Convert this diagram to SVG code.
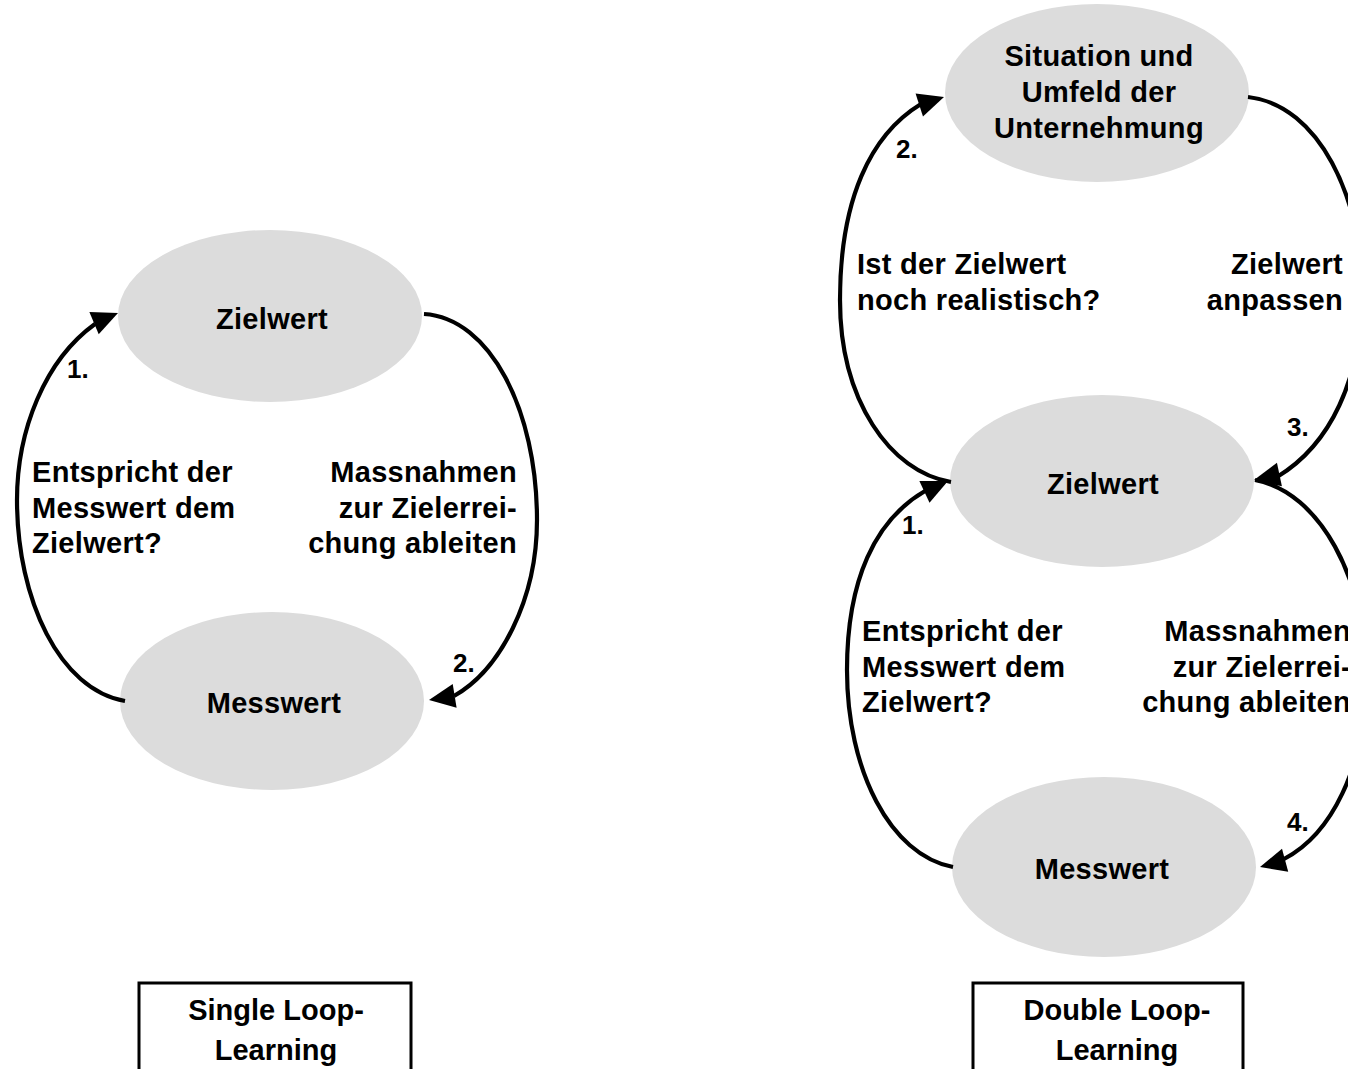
<svg xmlns="http://www.w3.org/2000/svg" xmlns:xlink="http://www.w3.org/1999/xlink" width="1348" height="1069" viewBox="0 0 1348 1069">
<style>
.node{fill:#dcdcdc;stroke:none}
.t{font-family:"Liberation Sans",Arial,sans-serif;font-weight:bold;font-size:29px;letter-spacing:0.3px;fill:#000}
.n{font-family:"Liberation Sans",Arial,sans-serif;font-weight:bold;font-size:26px;fill:#000}
.bt{font-family:"Liberation Sans",Arial,sans-serif;font-weight:bold;font-size:29px;fill:#000}
.c{fill:none;stroke:#000;stroke-width:4.2;stroke-linecap:butt}
.box{fill:#fff;stroke:#000;stroke-width:3}
.ah{fill:#000}
</style>
<defs>
<path id="ah" class="ah" d="M0,0 L-26,-12 L-26,12 Z"/>
</defs>
<rect width="1348" height="1069" fill="#fff"/>

<!-- Single loop -->
<g id="sl-zielwert">
<ellipse class="node" cx="270" cy="316" rx="152" ry="86"/>
<text class="t" x="272" y="329" text-anchor="middle">Zielwert</text>
</g>
<g id="sl-messwert">
<ellipse class="node" cx="272" cy="701" rx="152" ry="89"/>
<text class="t" x="274" y="713" text-anchor="middle">Messwert</text>
</g>

<!-- Double loop -->
<g id="dl-situation">
<ellipse class="node" cx="1097" cy="93" rx="152" ry="89"/>
<text class="t" x="1099" y="66" text-anchor="middle">Situation und</text>
<text class="t" x="1099" y="102" text-anchor="middle">Umfeld der</text>
<text class="t" x="1099" y="138" text-anchor="middle">Unternehmung</text>
</g>
<g id="dl-zielwert">
<ellipse class="node" cx="1102" cy="481" rx="152" ry="86"/>
<text class="t" x="1103" y="494" text-anchor="middle">Zielwert</text>
</g>
<g id="dl-messwert">
<ellipse class="node" cx="1104" cy="867" rx="152" ry="90"/>
<text class="t" x="1102" y="879" text-anchor="middle">Messwert</text>
</g>

<g id="connectors">
<!-- single loop -->
<path class="c" d="M125,701 C60,690 17,600 17,500 C17,430 45,360 95,324"/>
<use xlink:href="#ah" transform="translate(118,313) rotate(-22.9)"/>
<path class="c" d="M424,314 C490,318 537,410 537,520 C537,600 500,670 454,696"/>
<use xlink:href="#ah" transform="translate(429,700) rotate(170.7)"/>
<!-- double loop upper -->
<path class="c" d="M951,482 C890,472 840,400 840,300 C840,200 870,135 921,104"/>
<use xlink:href="#ah" transform="translate(944,97) rotate(-18)"/>
<path class="c" d="M1248,97 C1320,105 1362,200 1362,290 C1362,380 1330,445 1277,477"/>
<use xlink:href="#ah" transform="translate(1254,480) rotate(168)"/>
<!-- double loop lower -->
<path class="c" d="M953,867 C890,855 847,770 847,670 C847,580 875,520 925,491"/>
<use xlink:href="#ah" transform="translate(948,481) rotate(-25)"/>
<path class="c" d="M1255,480 C1320,492 1366,580 1366,675 C1366,770 1330,835 1284,859"/>
<use xlink:href="#ah" transform="translate(1260,867) rotate(165)"/>
</g>

<g id="labels">
<text class="n" x="67" y="378">1.</text>
<text class="n" x="453" y="672">2.</text>
<text class="t" x="32" y="482">Entspricht der</text>
<text class="t" x="32" y="518">Messwert dem</text>
<text class="t" x="32" y="553">Zielwert?</text>
<text class="t" x="517" y="482" text-anchor="end">Massnahmen</text>
<text class="t" x="517" y="518" text-anchor="end">zur Zielerrei-</text>
<text class="t" x="517" y="553" text-anchor="end">chung ableiten</text>

<text class="n" x="896" y="158">2.</text>
<text class="n" x="1287" y="436">3.</text>
<text class="n" x="902" y="534">1.</text>
<text class="n" x="1287" y="831">4.</text>
<text class="t" x="857" y="274">Ist der Zielwert</text>
<text class="t" x="857" y="310">noch realistisch?</text>
<text class="t" x="1343" y="274" text-anchor="end">Zielwert</text>
<text class="t" x="1343" y="310" text-anchor="end">anpassen</text>
<text class="t" x="862" y="641">Entspricht der</text>
<text class="t" x="862" y="677">Messwert dem</text>
<text class="t" x="862" y="712">Zielwert?</text>
<text class="t" x="1351" y="641" text-anchor="end">Massnahmen</text>
<text class="t" x="1351" y="677" text-anchor="end">zur Zielerrei-</text>
<text class="t" x="1351" y="712" text-anchor="end">chung ableiten</text>
</g>

<g id="box-single">
<rect class="box" x="139" y="983" width="272" height="120"/>
<text class="bt" x="276" y="1020" text-anchor="middle">Single Loop-</text>
<text class="bt" x="276" y="1060" text-anchor="middle">Learning</text>
</g>
<g id="box-double">
<rect class="box" x="973" y="983" width="270" height="120"/>
<text class="bt" x="1117" y="1020" text-anchor="middle">Double Loop-</text>
<text class="bt" x="1117" y="1060" text-anchor="middle">Learning</text>
</g>
</svg>
